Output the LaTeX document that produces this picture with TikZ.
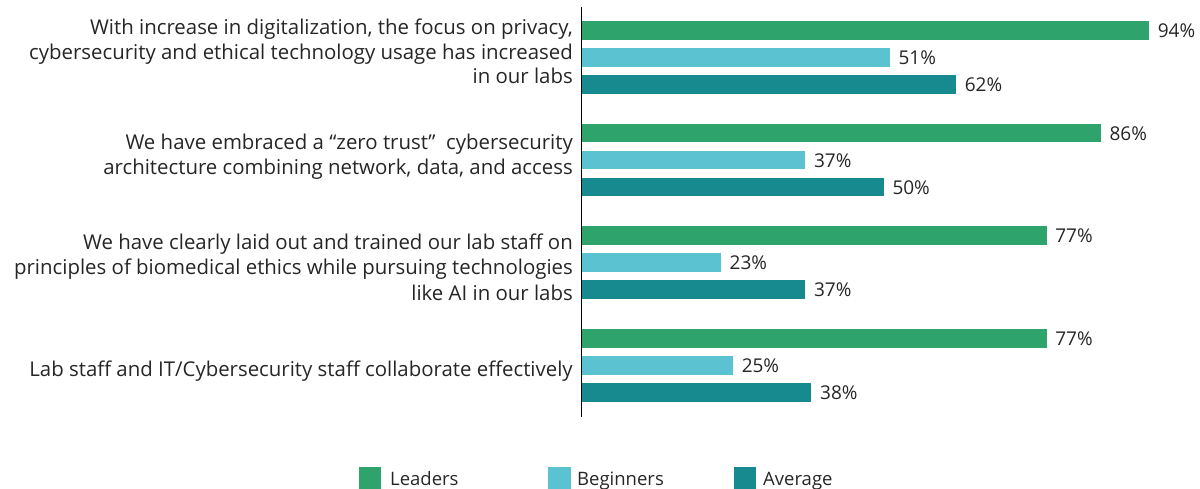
\documentclass[tikz,border=0pt]{standalone}
\usepackage{fontspec}
\setmainfont{Open Sans}
\definecolor{lead}{HTML}{2EA36B}
\definecolor{beg}{HTML}{5BC2D2}
\definecolor{avg}{HTML}{178A8F}
\definecolor{txt}{HTML}{262626}
\begin{document}
\begin{tikzpicture}[x=1pt,y=-1pt,
  cat/.style={anchor=base east, inner sep=0pt, font=\fontsize{20.4}{24}\selectfont, text=txt},
  val/.style={anchor=base west, inner sep=0pt, font=\fontsize{19}{22}\selectfont, text=txt},
  leg/.style={anchor=base west, inner sep=0pt, font=\fontsize{18.5}{22}\selectfont, text=txt},
  axisline/.style={draw=black, line width=1.2pt}
]
\useasboundingbox (0,0) rectangle (1200,489);
% category labels
\node[cat] (c1a) at (573,34.3) {With increase in digitalization, the focus on privacy,};
\node[cat] (c1b) at (573,59.3) {cybersecurity and ethical technology usage has increased};
\node[cat] (c1c) at (573,84) {in our labs};
\node[cat] (c2a) at (573,150) {We have embraced a “zero trust”\ \ cybersecurity};
\node[cat] (c2b) at (573,175) {architecture combining network, data, and access};
\node[cat] (c3a) at (573,249.3) {We have clearly laid out and trained our lab staff on};
\node[cat] (c3b) at (573,275) {principles of biomedical ethics while pursuing technologies};
\node[cat] (c3c) at (573,300) {like AI in our labs};
\node[cat] (c4a) at (573,376) {Lab staff and IT/Cybersecurity staff collaborate effectively};
% bars
\foreach \g/\top/\a/\b/\c in {1/21/94/51/62, 2/123.7/86/37/50, 3/226.3/77/23/37, 4/329/77/25/38} {
  \foreach \k/\v/\col in {0/\a/lead, 1/\b/beg, 2/\c/avg} {
    \pgfmathsetmacro\yt{\top+27*\k}
    \pgfmathsetmacro\xe{582.3+6.03*\v}
    \fill[\col] (582.3,\yt) rectangle (\xe,\yt+18.7);
    \node[val] (v\g\k) at (\xe+8.5,\yt+16.5) {\v\%};
  }
}
% axis
\coordinate (axtop) at (581.6,7);
\coordinate (axbot) at (581.6,416.5);
\draw[axisline] (axtop) -- (axbot);
% legend
\fill[lead] (359,467) rectangle (381,489);
\node[leg] (l1) at (390,485.7) {Leaders};
\fill[beg] (548,467) rectangle (570.5,489);
\node[leg] (l2) at (577,485.7) {Beginners};
\fill[avg] (733.5,467) rectangle (756,489);
\node[leg] (l3) at (763,485.7) {Average};
\end{tikzpicture}
\end{document}
